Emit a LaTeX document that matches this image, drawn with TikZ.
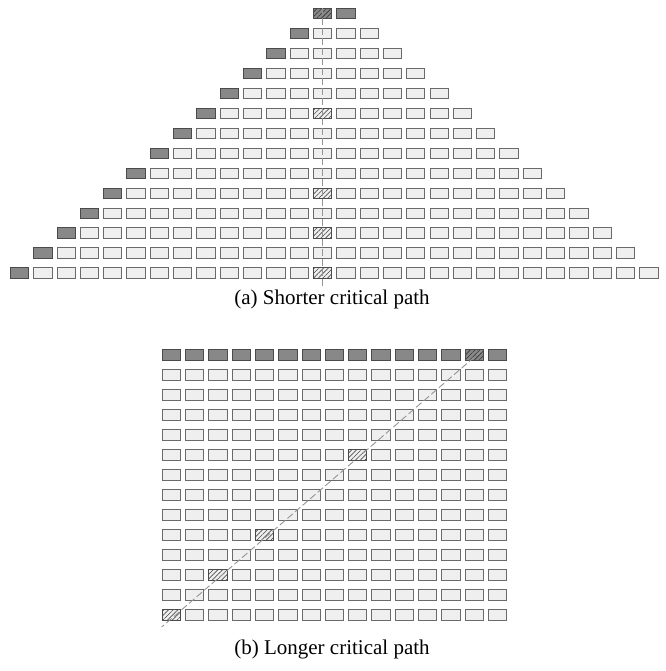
\documentclass[tikz,border=0pt]{standalone}
\usepackage{fontspec}
\setmainfont{Liberation Serif}
\usetikzlibrary{patterns.meta}

\definecolor{boxline}{HTML}{6A6A6A}
\definecolor{lightfill}{HTML}{EFEFEF}
\definecolor{darkfill}{HTML}{888888}
\definecolor{darkline}{HTML}{4A4A4A}
\definecolor{pathline}{HTML}{959595}

\tikzset{
  cell/.style={draw=boxline, line width=1pt, fill=lightfill,
    minimum width=18.3pt, minimum height=10.4pt, inner sep=0pt, outer sep=0pt},
  darkcell/.style={cell, draw=darkline, fill=darkfill},
  hatchcell/.style={cell, draw=darkline, preaction={fill=lightfill},
    pattern={Lines[angle=45,distance=3.3pt,line width=0.6pt]}, pattern color=darkline},
  darkhatch/.style={darkcell, preaction={fill=darkfill},
    pattern={Lines[angle=45,distance=3.3pt,line width=0.6pt]}, pattern color=black!80},
  critpath/.style={draw=pathline, line width=0.9pt, dash pattern=on 7pt off 3pt},
  caption/.style={font=\fontsize{21}{25}\selectfont, inner sep=0pt}
}

\begin{document}
\begin{tikzpicture}[x=1pt, y=-1pt]
\useasboundingbox (0,0) rectangle (665,671);

% (a) pyramid
\foreach \r in {1,...,14} {
  \pgfmathtruncatemacro\cmin{15-\r}
  \pgfmathtruncatemacro\cmax{14+\r}
  \foreach \c in {\cmin,...,\cmax} {
    \def\sty{cell}
    \ifnum\c=\cmin \def\sty{darkcell}\fi
    \ifnum\r=1 \def\sty{darkcell}\fi
    \ifnum\c=14
      \ifnum\r=6 \def\sty{hatchcell}\fi
      \ifnum\r=10 \def\sty{hatchcell}\fi
      \ifnum\r=12 \def\sty{hatchcell}\fi
      \ifnum\r=14 \def\sty{hatchcell}\fi
      \ifnum\r=1 \def\sty{darkhatch}\fi
    \fi
    \node[\sty] (t-\r-\c) at ({322.6+(\c-14)*23.31},{13.7+(\r-1)*19.95}) {};
  }
}

% (b) grid
\foreach \r in {1,...,14} {
  \foreach \c in {1,...,15} {
    \def\sty{cell}
    \ifnum\r=1 \def\sty{darkcell}\fi
    \pgfmathtruncatemacro\s{\r+\c}
    \ifnum\s=15
      \ifnum\r=6 \def\sty{hatchcell}\fi
      \ifnum\r=10 \def\sty{hatchcell}\fi
      \ifnum\r=12 \def\sty{hatchcell}\fi
      \ifnum\r=14 \def\sty{hatchcell}\fi
      \ifnum\r=1 \def\sty{darkhatch}\fi
    \fi
    \node[\sty] (b-\r-\c) at ({171.35+(\c-1)*23.31},{355+(\r-1)*20}) {};
  }
}

% critical paths
\coordinate (vend) at (322.6,287);
\draw[critpath] (t-1-14.north) -- (vend);
\coordinate (dtop) at (482,350.5);
\coordinate (dbot) at (161.7,627);
\draw[critpath] (dtop) -- (dbot);

% captions
\node[caption] (capa) at (332,299) {(a) Shorter critical path};
\node[caption] (capb) at (332,649) {(b) Longer critical path};
\end{tikzpicture}
\end{document}
